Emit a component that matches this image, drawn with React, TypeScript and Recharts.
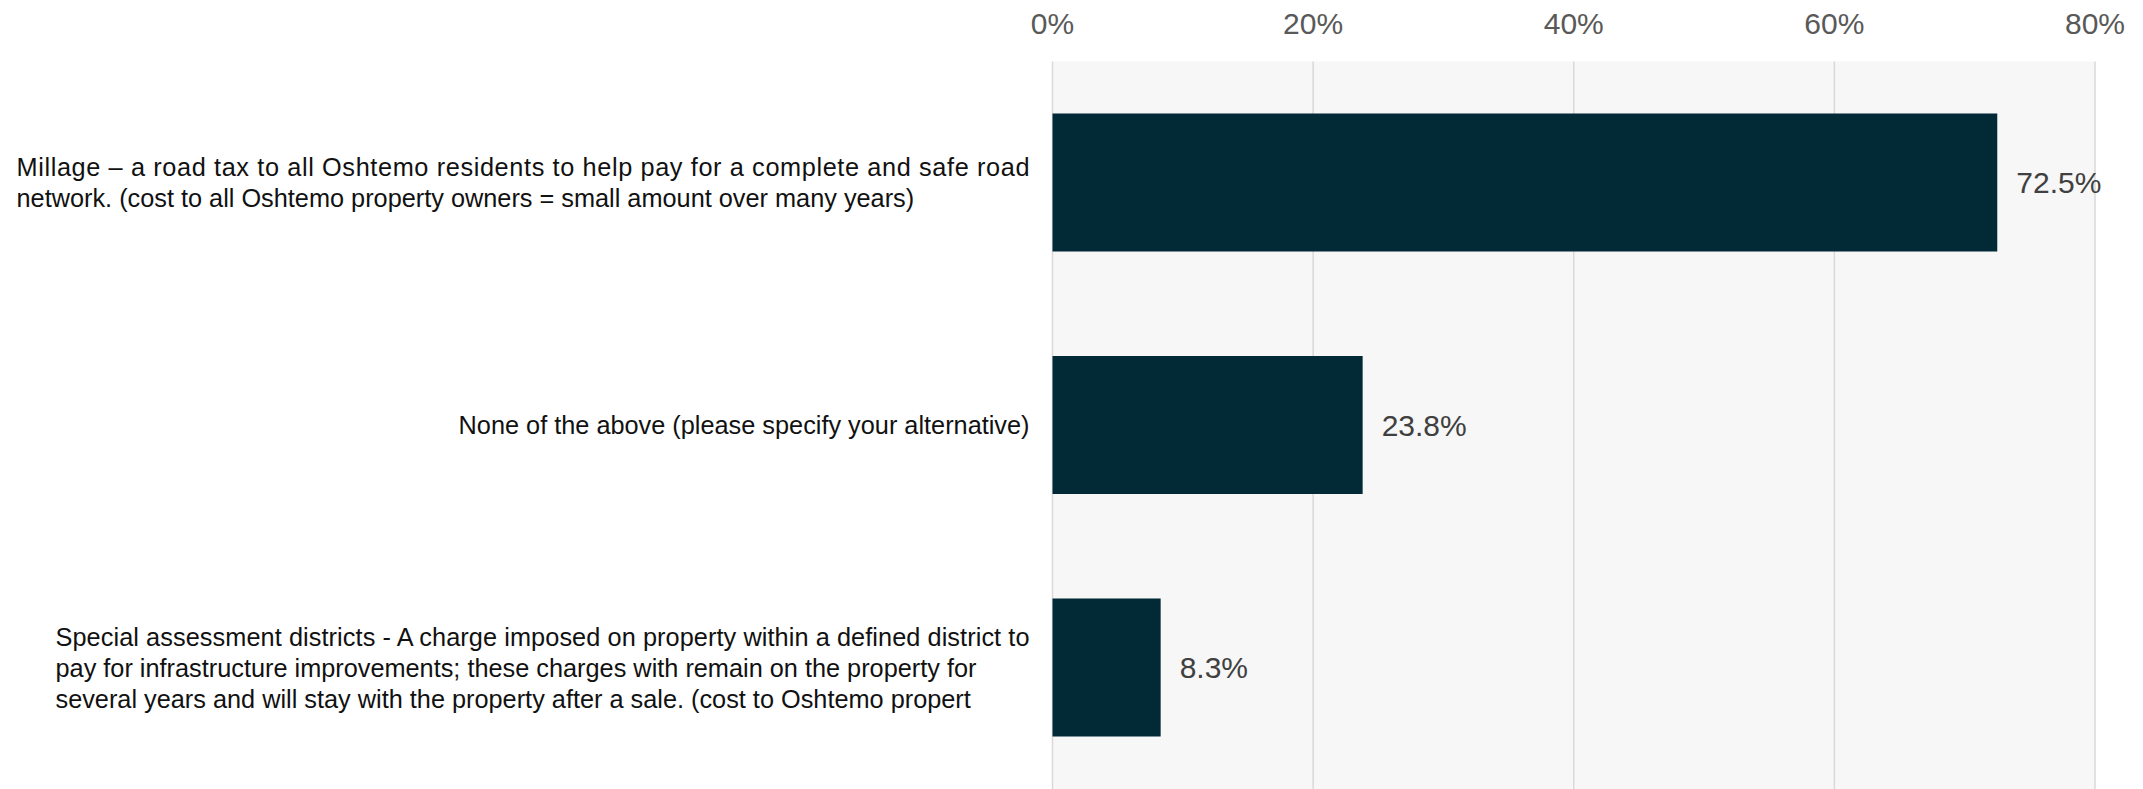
import React from "react";
import { BarChart, Bar, XAxis, YAxis, CartesianGrid, LabelList } from "recharts";

const categories = [
  "Millage – a road tax to all Oshtemo residents to help pay for a complete and safe road network. (cost to all Oshtemo property owners = small amount over many years)",
  "None of the above (please specify your alternative)",
  "Special assessment districts - A charge imposed on property within a defined district to pay for infrastructure improvements; these charges with remain on the property for several years and will stay with the property after a sale. (cost to Oshtemo propert",
];

const categoryLines = [
  [
    "Millage – a road tax to all Oshtemo residents to help pay for a complete and safe road",
    "network. (cost to all Oshtemo property owners = small amount over many years)",
  ],
  ["None of the above (please specify your alternative)"],
  [
    "Special assessment districts - A charge imposed on property within a defined district to",
    "pay for infrastructure improvements; these charges with remain on the property for",
    "several years and will stay with the property after a sale. (cost to Oshtemo propert",
  ],
];

const values = [72.5, 23.8, 8.3];
const xTicks = [0, 20, 40, 60, 80];

const data = categories.map((c, i) => ({ name: c, value: values[i] }));

const BLOCK_WIDTHS = [1013, 0, 974];
const FONT = "'Liberation Sans', Arial, sans-serif";
const LABEL_SIZE = 25.3;

const CategoryTick = (props: any) => {
  const { x, y, payload } = props;
  const idx = categories.indexOf(payload.value);
  const lines = categoryLines[idx] || [String(payload.value)];
  const right = x;
  const lh = 31;
  const first = y - ((lines.length - 1) / 2) * lh;
  const bw = BLOCK_WIDTHS[idx] || 0;
  if (!bw) {
    return (
      <text x={right} y={first} textAnchor="end" dominantBaseline="central" fontSize={LABEL_SIZE} fontFamily={FONT} fill="#111">
        {lines.map((l, i) => (
          <tspan key={i} x={right} y={first + i * lh}>{l}</tspan>
        ))}
      </text>
    );
  }
  const start = right - bw;
  return (
    <g>
      {lines.map((l, i) => (
        <text
          key={i}
          x={start}
          y={first + i * lh}
          textAnchor="start"
          dominantBaseline="central"
          fontSize={LABEL_SIZE}
          fontFamily={FONT}
          fill="#111"
          {...(i === 0 ? { textLength: bw, lengthAdjust: "spacing" } : {})}
        >
          {l}
        </text>
      ))}
    </g>
  );
};

export default function App() {
  return (
    <div style={{ position: "absolute", left: 0, top: 0, width: 2143, height: 789, background: "#fff" }}>
      <BarChart
        width={2143}
        height={789}
        data={data}
        layout="vertical"
        margin={{ top: 0, right: 48, bottom: 0, left: 0 }}
        barCategoryGap="21.5%"
      >
        <CartesianGrid horizontal={false} vertical={true} stroke="#d9d9d9" strokeWidth={1.5} fill="#f7f7f7" />
        <XAxis
          type="number"
          orientation="top"
          domain={[0, 80]}
          ticks={xTicks}
          tickFormatter={(v: number) => `${v}%`}
          axisLine={false}
          tickLine={false}
          tickSize={6}
          tickMargin={22}
          height={61.5}
          interval={0}
          tick={{ fontSize: 30, fill: "#595959", fontFamily: FONT }}
        />
        <YAxis
          type="category"
          dataKey="name"
          width={1052.5}
          axisLine={false}
          tickLine={false}
          tickSize={0}
          tickMargin={23}
          interval={0}
          tick={<CategoryTick />}
        />
        <Bar dataKey="value" fill="#022936" barSize={138} isAnimationActive={false}>
          <LabelList
            dataKey="value"
            position="right"
            offset={19}
            formatter={(v: number) => `${v.toFixed(1)}%`}
            style={{ fontSize: 30, fill: "#404040", fontFamily: FONT }}
          />
        </Bar>
      </BarChart>
    </div>
  );
}
